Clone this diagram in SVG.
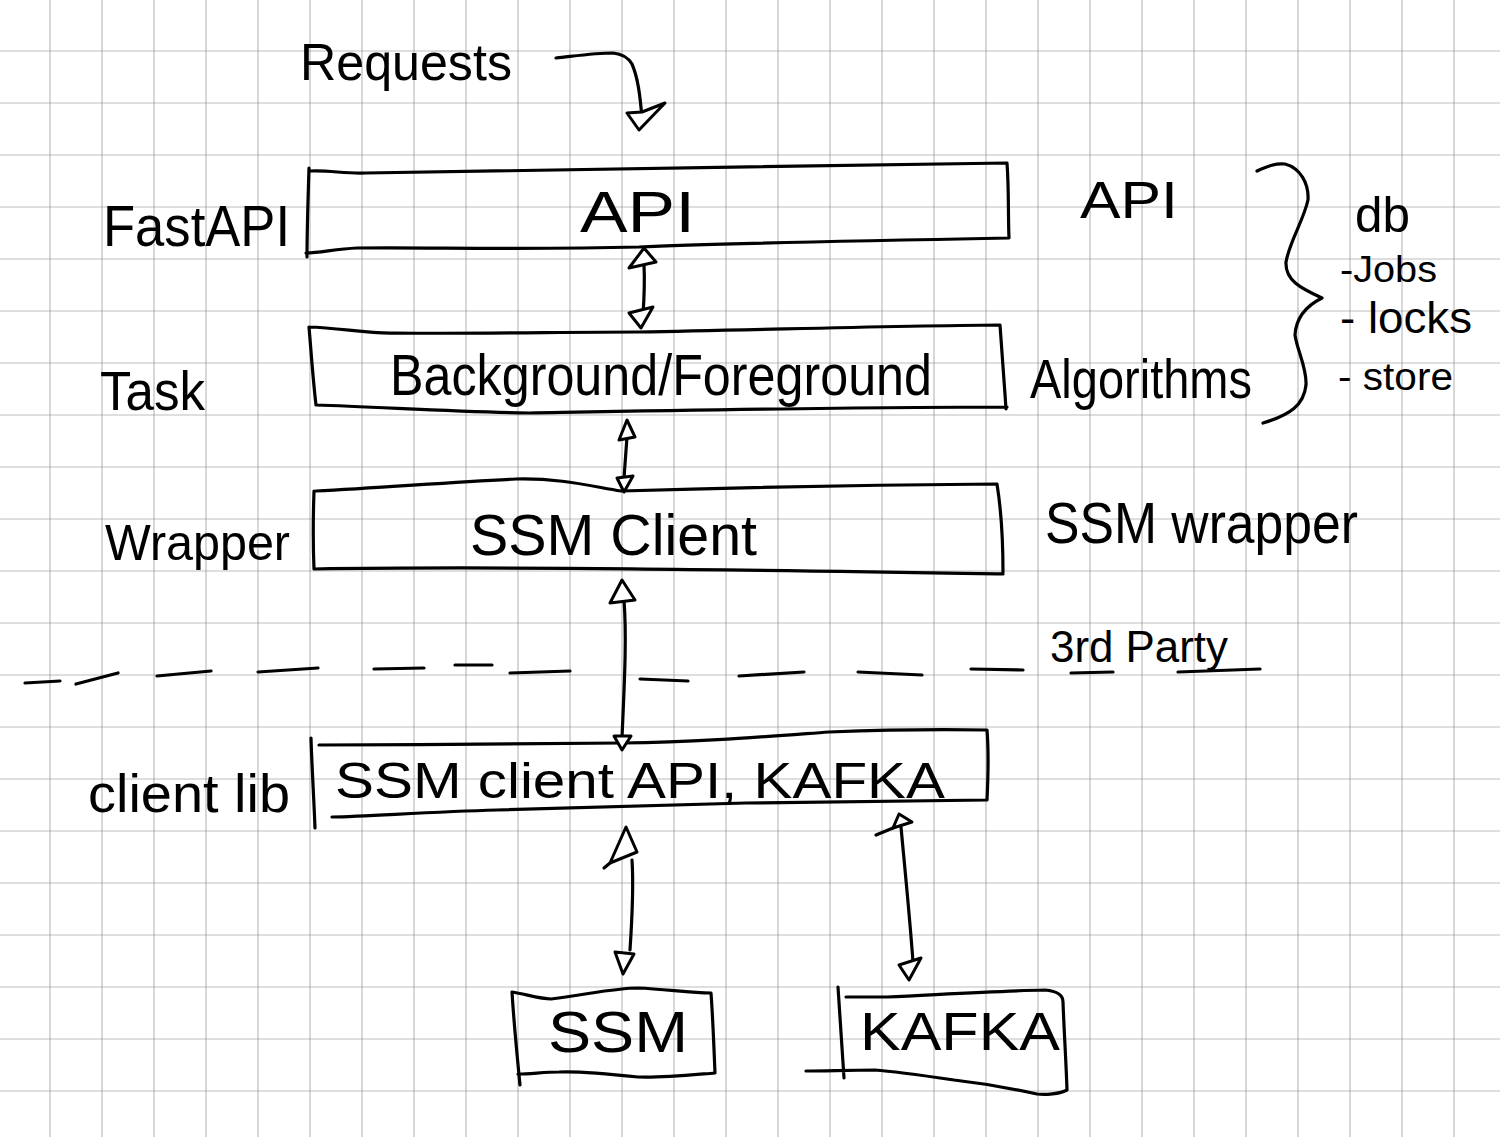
<svg xmlns="http://www.w3.org/2000/svg" width="1500" height="1137" viewBox="0 0 1500 1137">
<defs>
<pattern id="grid" x="49.5" y="50.5" width="52" height="52" patternUnits="userSpaceOnUse">
<path d="M0 0 H52 M0 0 V52" fill="none" stroke="#7a7a7a" stroke-width="1.2"/>
</pattern>
<style>
.ink{fill:none;stroke:#000;stroke-width:3.2;stroke-linecap:round;stroke-linejoin:round}
.head{fill:#fff;stroke:#000;stroke-width:3;stroke-linejoin:round}
.t{font-family:"Liberation Sans",Arial,sans-serif;fill:#000}
</style>
</defs>
<rect width="1500" height="1137" fill="#fff"/>
<rect x="0" y="0" width="1500" height="1137" fill="url(#grid)"/>

<g id="requests-label">
<text class="t" x="300" y="80" font-size="52" textLength="212" lengthAdjust="spacingAndGlyphs">Requests</text>
</g>

<g id="layer-labels-left">
<text class="t" x="103" y="246" font-size="58" textLength="187" lengthAdjust="spacingAndGlyphs">FastAPI</text>
<text class="t" x="100" y="410" font-size="56" textLength="105" lengthAdjust="spacingAndGlyphs">Task</text>
<text class="t" x="105" y="560" font-size="50" textLength="185" lengthAdjust="spacingAndGlyphs">Wrapper</text>
<text class="t" x="88" y="812" font-size="54" textLength="202" lengthAdjust="spacingAndGlyphs">client lib</text>
</g>

<g id="layer-labels-right">
<text class="t" x="1080" y="218" font-size="52" textLength="98" lengthAdjust="spacingAndGlyphs">API</text>
<text class="t" x="1030" y="398" font-size="56" textLength="222" lengthAdjust="spacingAndGlyphs">Algorithms</text>
<text class="t" x="1045" y="543" font-size="58" textLength="313" lengthAdjust="spacingAndGlyphs">SSM wrapper</text>
<text class="t" x="1050" y="662" font-size="44" textLength="178" lengthAdjust="spacingAndGlyphs">3rd Party</text>
</g>

<g id="db-note">
<path class="ink" d="M1257 171 C1268 166 1276 163 1285 164 C1300 168 1309 183 1308 200 C1303 222 1290 240 1286 262 C1285 280 1300 288 1322 298 C1306 306 1296 318 1295 335 C1297 350 1307 368 1306 385 C1304 405 1290 415 1263 423"/>
<text class="t" x="1355" y="232" font-size="50" textLength="55" lengthAdjust="spacingAndGlyphs">db</text>
<text class="t" x="1340" y="282" font-size="36" textLength="97" lengthAdjust="spacingAndGlyphs">-Jobs</text>
<text class="t" x="1340" y="333" font-size="44" textLength="132" lengthAdjust="spacingAndGlyphs">- locks</text>
<text class="t" x="1338" y="390" font-size="38" textLength="115" lengthAdjust="spacingAndGlyphs">- store</text>
</g>

<g id="node-api">
<path class="ink" d="M310 171 C330 170 345 174 366 173 C550 170 800 166 1007 163 C1009 190 1008 215 1009 238 C900 240 700 244 639 247 C520 250 420 247 357 248 C335 249 320 253 306 253 M309 168 C308 200 307 230 307 257"/>
<text class="t" x="580" y="232" font-size="58" textLength="115" lengthAdjust="spacingAndGlyphs">API</text>
</g>

<g id="node-task">
<path class="ink" d="M309 327 C340 328 370 334 395 333 C480 334 560 332 639 332 C760 330 880 326 1000 325 C1002 350 1004 380 1006 409 M316 405 C380 407 460 412 529 413 C700 410 860 407 1007 407 M309 327 C311 350 313 380 316 405"/>
<text class="t" x="390" y="395" font-size="58" textLength="542" lengthAdjust="spacingAndGlyphs">Background/Foreground</text>
</g>

<g id="node-ssm-client">
<path class="ink" d="M316 491 C380 488 450 482 516 479 C560 478 590 486 621 491 C720 488 860 485 997 484 C1002 515 1003 545 1003 573 M314 569 C500 566 750 570 1003 574 M314 491 C313 520 313 545 314 569"/>
<text class="t" x="470" y="555" font-size="58" textLength="287" lengthAdjust="spacingAndGlyphs">SSM Client</text>
</g>

<g id="node-client-lib">
<path class="ink" d="M319 745 C420 745 520 744 622 743 C700 742 760 737 829 732 C880 730 940 729 987 730 C989 755 988 780 987 800 C900 801 820 802 746 803 C650 806 560 808 497 810 C430 812 370 816 332 817 M311 738 C312 770 314 800 315 828"/>
<text class="t" x="335" y="798" font-size="50" textLength="610" lengthAdjust="spacingAndGlyphs">SSM client API, KAFKA</text>
</g>

<g id="node-ssm">
<path class="ink" d="M512 992 C525 994 540 999 551 999 C590 994 615 988 638 988 C665 989 690 993 711 993 C713 1020 714 1050 715 1073 C690 1075 660 1078 638 1077 C610 1074 580 1071 559 1072 C545 1072 530 1074 518 1074 M512 992 C514 1025 517 1055 520 1085"/>
<text class="t" x="548" y="1052" font-size="58" textLength="140" lengthAdjust="spacingAndGlyphs">SSM</text>
</g>

<g id="node-kafka">
<path class="ink" d="M846 997 C860 997 875 997 887 997 C950 994 1000 991 1045 990 C1057 991 1063 995 1063 1002 C1064 1030 1066 1060 1067 1090 C1060 1094 1045 1095 1037 1094 C1010 1088 980 1083 954 1080 C920 1075 890 1071 875 1070 C850 1070 825 1071 806 1071 M838 987 C840 1020 842 1050 844 1078"/>
<text class="t" x="860" y="1050" font-size="54" textLength="200" lengthAdjust="spacingAndGlyphs">KAFKA</text>
</g>

<g id="connectors">
<path class="ink" d="M556 58 C575 56 595 53 613 53 C622 54 628 57 632 64 C638 78 640 95 642 118"/>
<path class="head" d="M627 113 L639 130 L665 103 L642 112 Z"/>
<path class="ink" d="M644 265 C645 285 644 300 643 315"/>
<path class="head" d="M644 248 L629 268 L656 262 Z"/>
<path class="head" d="M629 313 L653 307 L641 328 Z"/>
<path class="ink" d="M627 437 C626 450 625 465 624 478"/>
<path class="head" d="M627 420 L619 440 L635 437 Z"/>
<path class="head" d="M617 478 L633 476 L624 492 Z"/>
<path class="ink" d="M624 600 C627 640 624 690 622 738"/>
<path class="head" d="M622 580 L610 603 L635 600 Z"/>
<path class="head" d="M614 736 L631 736 L622 750 Z"/>
<path class="ink" d="M632 860 C634 890 632 920 630 950"/>
<path class="head" d="M626 827 L610 863 L637 852 Z"/>
<path class="ink" d="M610 863 L604 868"/>
<path class="head" d="M615 952 L634 954 L623 974 Z"/>
<path class="ink" d="M901 827 C905 870 910 920 913 962"/>
<path class="head" d="M899 814 L912 822 L893 828 Z"/>
<path class="ink" d="M893 828 L876 835"/>
<path class="head" d="M899 965 L921 958 L909 980 Z"/>
</g>

<g id="third-party-boundary">
<path class="ink" stroke-width="4" d="M25 683 L60 681 M76 684 L118 673 M157 676 L211 671 M258 672 L318 668 M374 669 L424 668 M455 665 L492 665 M510 673 L570 671 M640 679 L688 681 M739 676 L804 672 M858 672 L922 675 M971 669 L1023 670 M1071 673 L1113 672 M1178 672 L1260 669"/>
</g>
</svg>
